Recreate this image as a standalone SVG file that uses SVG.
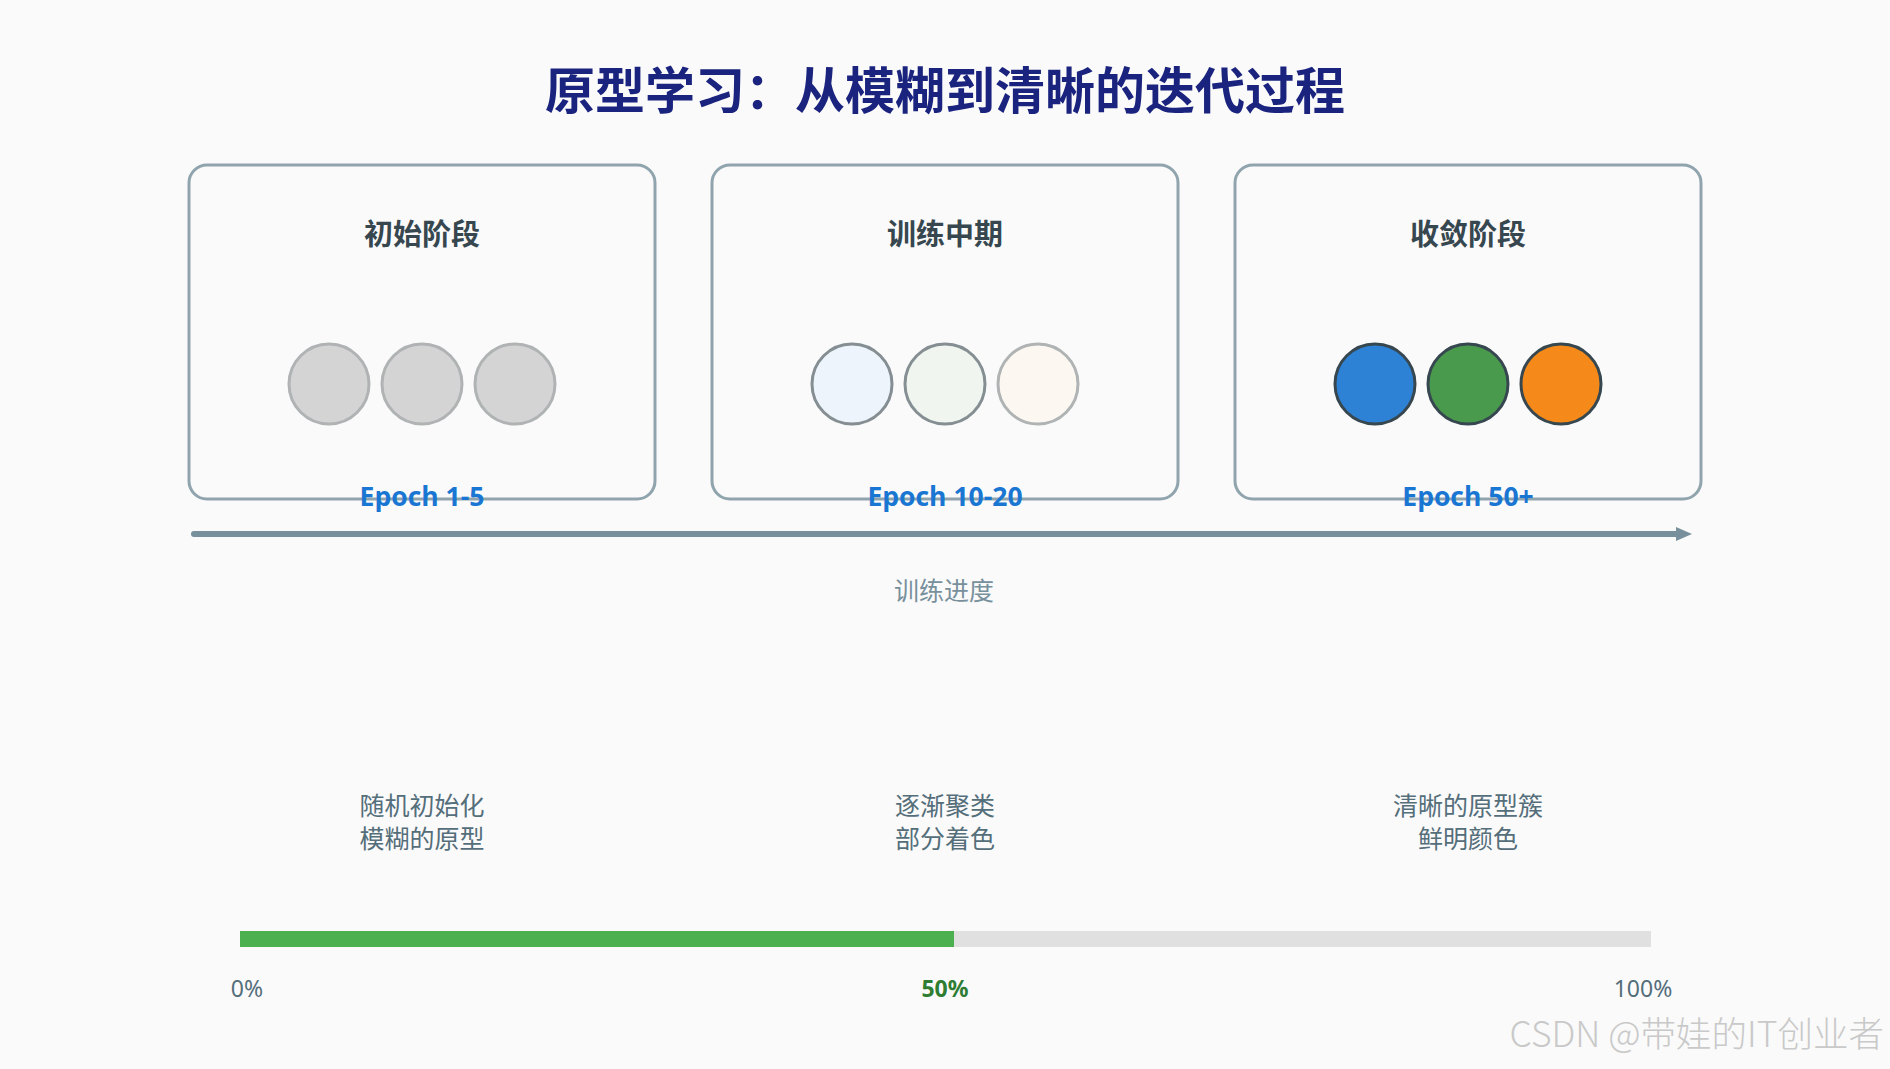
<svg xmlns="http://www.w3.org/2000/svg" width="1890" height="1069" viewBox="0 0 1890 1069">
<defs>
<style>
.cjk{font-family:"Noto Sans CJK SC","Noto Sans",sans-serif}
.title{font-size:50px;font-weight:700;fill:#1a237e}
.stage{fill:#fafafa;stroke:#90a4ae;stroke-width:3}
.stitle{font-size:29px;font-weight:700;fill:#37474f}
.epoch{font-family:"Open Sans","Noto Sans",sans-serif;font-size:26.5px;font-weight:700;fill:#1976d2}
.desc{font-size:25px;fill:#546e7a}
.pct{font-family:"Noto Sans","Open Sans",sans-serif;font-size:23px;fill:#546e7a}
.pct-mid{font-weight:700;fill:#2e7d32}
.c0{fill:#d4d4d4;stroke:#b0b3b4;stroke-width:3}
.c3{stroke:#37474f;stroke-width:3}
</style>
<marker id="arr" markerUnits="userSpaceOnUse" markerWidth="16" markerHeight="14" refX="2" refY="7" orient="auto">
<path d="M0,0 L16,7 L0,14 Z" fill="#78909c"/>
</marker>
</defs>
<rect x="0" y="0" width="1890" height="1069" fill="#fafafa"/>
<text class="cjk title" x="945" y="109" text-anchor="middle">原型学习：从模糊到清晰的迭代过程</text>

<g id="stage-initial">
<rect class="stage" x="189" y="165" width="466" height="334" rx="18"/>
<text class="cjk stitle" x="422" y="245" text-anchor="middle">初始阶段</text>
<circle class="c0" cx="329" cy="384" r="40"/>
<circle class="c0" cx="422" cy="384" r="40"/>
<circle class="c0" cx="515" cy="384" r="40"/>
<text class="epoch" x="422" y="506" text-anchor="middle">Epoch 1-5</text>
</g>

<g id="stage-middle">
<rect class="stage" x="712" y="165" width="466" height="334" rx="18"/>
<text class="cjk stitle" x="945" y="245" text-anchor="middle">训练中期</text>
<circle cx="852" cy="384" r="40" fill="#edf4fc" stroke="#858e92" stroke-width="3"/>
<circle cx="945" cy="384" r="40" fill="#f0f6ef" stroke="#858e92" stroke-width="3"/>
<circle cx="1038" cy="384" r="40" fill="#fcf8f1" stroke="#b0b3b4" stroke-width="3"/>
<text class="epoch" x="945" y="506" text-anchor="middle">Epoch 10-20</text>
</g>

<g id="stage-converged">
<rect class="stage" x="1235" y="165" width="466" height="334" rx="18"/>
<text class="cjk stitle" x="1468" y="245" text-anchor="middle">收敛阶段</text>
<circle class="c3" cx="1375" cy="384" r="40" fill="#2e82d6"/>
<circle class="c3" cx="1468" cy="384" r="40" fill="#4a9a4e"/>
<circle class="c3" cx="1561" cy="384" r="40" fill="#f58a1a"/>
<text class="epoch" x="1468" y="506" text-anchor="middle">Epoch 50+</text>
</g>

<g id="connectors">
<line x1="194" y1="534" x2="1678" y2="534" stroke="#78909c" stroke-width="6" stroke-linecap="round" marker-end="url(#arr)"/>
</g>
<text class="cjk" x="944" y="600" text-anchor="middle" font-size="25" fill="#78909c">训练进度</text>

<g id="descriptions">
<text class="cjk desc" x="422" y="815" text-anchor="middle">随机初始化</text>
<text class="cjk desc" x="422" y="848" text-anchor="middle">模糊的原型</text>
<text class="cjk desc" x="945" y="815" text-anchor="middle">逐渐聚类</text>
<text class="cjk desc" x="945" y="848" text-anchor="middle">部分着色</text>
<text class="cjk desc" x="1468" y="815" text-anchor="middle">清晰的原型簇</text>
<text class="cjk desc" x="1468" y="848" text-anchor="middle">鲜明颜色</text>
</g>

<g id="progress">
<rect x="240" y="931" width="1411" height="16" fill="#e0e0e0"/>
<rect x="240" y="931" width="714" height="16" fill="#4caf50"/>
<text class="pct" x="247" y="997" text-anchor="middle">0%</text>
<text class="pct pct-mid" x="945" y="997" text-anchor="middle">50%</text>
<text class="pct" x="1643" y="997" text-anchor="middle">100%</text>
</g>

<text class="cjk" x="1884" y="1047" text-anchor="end" font-size="35.5" font-weight="300" fill="#c9c9c9">CSDN @带娃的IT创业者</text>
</svg>
